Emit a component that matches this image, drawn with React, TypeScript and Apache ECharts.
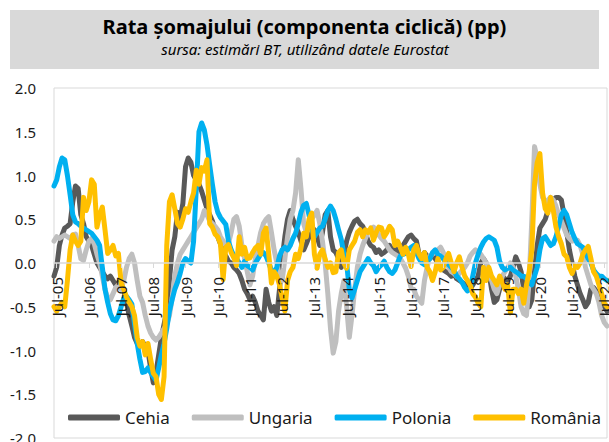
import React, { useEffect, useRef } from "react";
import * as echarts from "echarts";

const MONTHS = ["Jan", "Feb", "Mar", "Apr", "May", "Jun", "Jul", "Aug", "Sep", "Oct", "Nov", "Dec"];
const START_YEAR = 2005;
const START_MONTH = 5; // Jun-05

const TITLE = "Rata șomajului (componenta ciclică) (pp)";
const SUBTITLE = "sursa: estimări BT, utilizând datele Eurostat";

const SERIES_NAMES = ["Cehia", "Ungaria", "Polonia", "România"];
const SERIES_COLORS = ["#595959", "#bfbfbf", "#00b0f0", "#ffc000"];

// Jun-05 .. Aug-22, monthly
const cehia = [
  -0.15, -0.05, 0.2, 0.32, 0.4, 0.42, 0.45,
  0.7, 0.88, 0.85, 0.55, 0.45, 0.3, 0.25, 0.2, 0.1, 0.0, -0.05, -0.1,
  -0.15, -0.18, -0.15, -0.2, -0.25, -0.22, -0.25, -0.3, -0.45, -0.6, -0.72, -0.85,
  -0.92, -0.95, -0.9, -0.95, -1.0, -1.2, -1.37, -1.25, -1.05, -0.85, -0.7, -0.55,
  -0.2, 0.15, 0.3, 0.58, 0.5, 0.68, 1.1, 1.2, 1.15, 1.0, 0.95, 0.9,
  0.82, 0.72, 0.62, 0.55, 0.48, 0.38, 0.3, 0.22, 0.12, 0.08, 0.02, 0.0,
  -0.05, -0.08, -0.12, -0.2, -0.3, -0.35, -0.42, -0.38, -0.45, -0.55, -0.6, -0.65,
  -0.3, -0.45, -0.55, -0.5, -0.6, -0.3, 0.05, 0.3, 0.5, 0.6, 0.5, 0.42,
  0.35, 0.25, 0.15, 0.22, 0.3, 0.35, 0.38, 0.3, 0.2, 0.35, 0.55, 0.6,
  0.3, 0.15, 0.12, 0.05, -0.05, 0.1, 0.25, 0.35, 0.42, 0.48, 0.5, 0.45,
  0.42, 0.35, 0.25, 0.2, 0.18, 0.12, 0.15, 0.1, 0.12, 0.15, 0.2, 0.15,
  0.18, 0.12, 0.1, 0.2, 0.25, 0.3, 0.32, 0.28, 0.25, 0.1, 0.05, 0.12,
  0.08, 0.05, 0.1, 0.05, 0.0, -0.05, -0.08, -0.1, -0.12, -0.15, -0.12, -0.18,
  -0.2, -0.22, -0.24, -0.28, -0.3, -0.25, -0.2, -0.15, 0.0, 0.05, 0.0, -0.1,
  -0.3, -0.45, -0.42, -0.3, -0.15, -0.18, -0.2, -0.15, -0.05, 0.07, 0.0, -0.1,
  -0.3, -0.45, -0.5, -0.42, -0.1, 0.2, 0.4, 0.45, 0.5, 0.6, 0.65, 0.72,
  0.75, 0.75, 0.72, 0.55, 0.35, 0.15, 0.0, -0.15, -0.25, -0.35, -0.42, -0.5,
  -0.45, -0.3, -0.28, -0.32, -0.38, -0.45, -0.5, -0.55,
];

const ungaria = [
  0.25, 0.3, 0.28, 0.3, 0.32, 0.3, 0.28,
  0.32, 0.33, 0.2, 0.05, 0.03, 0.15, 0.25, 0.28, 0.22, 0.1, 0.0, -0.15,
  -0.3, -0.4, -0.42, -0.35, -0.28, -0.25, -0.3, -0.2, -0.05, 0.05, 0.1, 0.0,
  -0.2, -0.38, -0.45, -0.6, -0.72, -0.8, -0.85, -0.88, -0.85, -0.8, -0.75, -0.7,
  -0.6, -0.4, -0.15, 0.0, 0.1, 0.15, 0.2, 0.25, 0.3, 0.35, 0.4, 0.45,
  0.5, 0.6, 0.55, 0.48, 0.45, 0.42, 0.38, 0.3, 0.25, 0.2, 0.22, 0.35,
  0.5, 0.53, 0.42, 0.2, 0.05, -0.1, -0.25, -0.15, 0.05, 0.2, 0.35, 0.45,
  0.5, 0.53, 0.35, 0.15, 0.0, -0.15, -0.2, 0.05, 0.3, 0.5, 0.6, 0.8,
  1.18, 0.85, 0.45, 0.35, 0.4, 0.5, 0.55, 0.6, 0.45, 0.25, 0.0, -0.35,
  -0.75, -1.03, -0.9, -0.55, -0.35, -0.2, -0.5, -0.85, -0.6, -0.3, -0.05, 0.1,
  0.2, 0.28, 0.35, 0.38, 0.41, 0.38, 0.32, 0.28, 0.25, 0.2, 0.15, 0.12,
  0.1, 0.08, 0.05, 0.0, -0.06, -0.15, -0.28, -0.3, -0.38, -0.42, -0.46, -0.2,
  -0.05, 0.08, 0.1, 0.12, 0.15, 0.18, 0.12, 0.05, -0.05, -0.1, -0.12, -0.15,
  -0.12, -0.08, -0.05, 0.0, 0.08, 0.12, 0.15, 0.12, 0.1, 0.05, 0.0, -0.1,
  -0.2, -0.3, -0.35, -0.25, -0.15, -0.1, -0.05, 0.0, -0.05, -0.15, -0.3, -0.5,
  -0.58, -0.6, -0.2, 0.5, 1.33, 1.2, 0.9, 0.75, 0.7, 0.72, 0.75, 0.72,
  0.65, 0.55, 0.48, 0.4, 0.32, 0.28, 0.25, 0.26, 0.26, 0.2, 0.1, -0.05,
  -0.15, -0.25, -0.3, -0.35, -0.45, -0.6, -0.68, -0.72,
];

const polonia = [
  0.88, 0.95, 1.1, 1.2, 1.18, 1.0, 0.78,
  0.55, 0.47, 0.45, 0.42, 0.4, 0.38, 0.36, 0.34, 0.3, 0.26, 0.2, -0.05,
  -0.3, -0.45, -0.58, -0.65, -0.66, -0.6, -0.5, -0.4, -0.38, -0.42, -0.47, -0.7,
  -0.92, -1.1, -1.25, -1.24, -1.2, -1.25, -1.3, -1.34, -1.2, -1.05, -0.92, -0.75,
  -0.55, -0.42, -0.3, -0.22, -0.12, 0.0, 0.05, 0.02, 0.0, 0.25, 0.85, 1.5,
  1.6, 1.52, 1.35, 1.12, 0.9, 0.7, 0.58, 0.52, 0.48, 0.44, 0.25, 0.15,
  0.08, 0.05, 0.0, -0.05, 0.02, -0.03, -0.05, -0.08, 0.0, 0.05, 0.1, 0.12,
  0.08, 0.0, -0.08, -0.12, -0.05, 0.08, 0.15, 0.18, 0.15, 0.2, 0.28, 0.34,
  0.45, 0.58, 0.66, 0.68, 0.55, 0.4, 0.3, 0.35, 0.4, 0.42, 0.5, 0.6,
  0.65, 0.6, 0.5, 0.38, 0.27, 0.1, 0.0, -0.3, -0.4, -0.3, -0.2, -0.1,
  -0.05, 0.0, 0.05, 0.0, -0.03, -0.1, -0.05, -0.02, 0.02, -0.05, -0.1, -0.12,
  -0.08, 0.0, 0.08, 0.1, 0.11, 0.15, 0.18, 0.2, 0.12, 0.05, 0.0, -0.02,
  0.02, 0.05, 0.12, 0.15, 0.1, 0.08, 0.05, 0.0, -0.02, -0.05, -0.08, -0.15,
  -0.18, -0.22, -0.28, -0.32, -0.3, -0.15, 0.0, 0.1, 0.18, 0.24, 0.28, 0.3,
  0.28, 0.26, 0.18, 0.02, -0.05, -0.08, -0.06, -0.05, -0.08, -0.1, -0.12, -0.15,
  -0.15, -0.18, -0.22, -0.25, -0.15, -0.05, 0.15, 0.28, 0.3, 0.25, 0.2, 0.22,
  0.3, 0.42, 0.55, 0.6, 0.55, 0.45, 0.35, 0.28, 0.22, 0.2, 0.18, 0.12,
  0.05, 0.0, -0.08, -0.12, -0.15, -0.15, -0.18, -0.2,
];

const romania = [
  -0.5, -0.55, -0.5, -0.45, -0.5, -0.2, 0.15,
  0.32, 0.25, 0.2, 0.25, 0.75, 0.6, 0.7, 0.95, 0.9, 0.41, 0.55, 0.64,
  0.38, 0.11, 0.15, 0.2, 0.08, 0.11, -0.23, -0.3, -0.39, -0.45, -0.5, -0.6,
  -0.85, -0.95, -0.9, -1.05, -0.92, -1.1, -1.26, -1.3, -1.5, -1.56, -1.3, 0.2,
  0.7, 0.78, 0.62, 0.45, 0.41, 0.5, 0.62, 0.58, 0.7, 0.8, 1.06, 0.9,
  1.09, 1.05, 1.18, 0.45, 0.41, 0.33, 0.3, 0.22, -0.19, 0.18, 0.21, 0.12,
  0.06, -0.03, 0.3, 0.1, 0.18, 0.05, 0.06, 0.12, 0.17, 0.2, 0.1, 0.34,
  0.4, 0.1, -0.23, -0.1, -0.15, -0.25, -0.4, -0.55, -0.2, -0.1, -0.05, 0.1,
  0.05, 0.17, 0.34, 0.3, 0.5, 0.57, 0.1, -0.06, 0.1, 0.15, 0.05, -0.05,
  0.0, -0.11, -0.1, 0.12, 0.15, 0.0, -0.06, 0.15, 0.2, 0.25, 0.35, 0.38,
  0.3, 0.38, 0.35, 0.4, 0.26, 0.35, 0.41, 0.4, 0.3, 0.35, 0.42, 0.38,
  0.2, 0.25, 0.18, 0.1, 0.18, 0.1, -0.04, 0.15, 0.2, 0.1, 0.05, 0.12,
  -0.05, -0.1, -0.2, -0.1, 0.05, -0.08, -0.05, 0.05, 0.11, 0.0, -0.1, 0.0,
  0.07, -0.05, -0.15, -0.2, -0.25, -0.35, -0.39, -0.46, -0.5, -0.05, -0.2, -0.05,
  -0.15, -0.2, -0.25, -0.15, -0.22, -0.3, -0.25, -0.57, -0.3, -0.3, -0.35, -0.3,
  -0.46, -0.25, -0.1, 0.15, 0.9, 1.15, 1.25, 0.8, 0.62, 0.57, 0.75, 0.6,
  0.41, 0.3, 0.22, 0.1, 0.07, -0.05, -0.12, -0.03, -0.05, 0.0, 0.1, 0.15,
  0.19, 0.05, -0.1, -0.15, -0.25, -0.35, -0.46, -0.5,
];

const SERIES_DATA = [cehia, ungaria, polonia, romania];

const Y_MIN = -2;
const Y_MAX = 2;
const Y_STEP = 0.5;

const FONT = '"Noto Sans", "Open Sans", sans-serif';
const TEXT_COLOR = "#1a1a1a";
const FRAME_COLOR = "#d9d9d9";

const GRID_TOP = 88;
const GRID_BOTTOM = 4;
const CHART_H = 442;

function buildCategories(n: number): string[] {
  const out: string[] = [];
  for (let k = 0; k < n; k++) {
    const mIdx = START_MONTH + k;
    const m = mIdx % 12;
    const y = START_YEAR + Math.floor(mIdx / 12);
    out.push(`${MONTHS[m]}-${String(y % 100).padStart(2, "0")}`);
  }
  return out;
}

export default function App() {
  const ref = useRef<HTMLDivElement>(null);

  useEffect(() => {
    if (!ref.current) return;
    const chart = echarts.init(ref.current, undefined, { renderer: "svg" });
    const categories = buildCategories(cehia.length);
    const showJul = (idx: number) => !!categories[idx] && categories[idx].startsWith("Jul");

    // place the category axis at value 0 (labels included)
    const plotH = CHART_H - GRID_TOP - GRID_BOTTOM;
    const zeroOffset = -plotH * ((0 - Y_MIN) / (Y_MAX - Y_MIN));

    chart.setOption({
      animation: false,
      backgroundColor: "#ffffff",
      textStyle: { fontFamily: FONT },
      graphic: [
        {
          type: "rect",
          shape: { x: 10, y: 10, width: 589, height: 59 },
          style: { fill: "#d9d9d9" },
          silent: true,
        },
        {
          type: "text",
          x: 304.5,
          y: 26,
          style: {
            text: TITLE,
            fontFamily: FONT,
            fontSize: 20,
            fontWeight: "bold",
            fill: "#000000",
            textAlign: "center",
            textVerticalAlign: "middle",
          },
        },
        {
          type: "text",
          x: 305,
          y: 49,
          style: {
            text: SUBTITLE,
            fontFamily: FONT,
            fontSize: 15,
            fontStyle: "italic",
            fill: "#000000",
            textAlign: "center",
            textVerticalAlign: "middle",
          },
        },
      ],
      grid: {
        left: 54,
        right: 2,
        top: GRID_TOP,
        bottom: GRID_BOTTOM,
        outerBoundsMode: "none",
        containLabel: false,
        show: true,
        borderColor: FRAME_COLOR,
        borderWidth: 1,
        backgroundColor: "transparent",
      },
      legend: {
        data: SERIES_NAMES,
        left: 63,
        top: 404,
        icon: "roundRect",
        itemWidth: 52,
        itemHeight: 6,
        itemGap: 22,
        textStyle: { fontSize: 17, color: TEXT_COLOR, fontFamily: FONT },
      },
      xAxis: {
        type: "category",
        data: categories,
        boundaryGap: false,
        position: "bottom",
        offset: zeroOffset,
        z: 10,
        axisLine: { onZero: false, lineStyle: { color: FRAME_COLOR, width: 1.5 } },
        axisTick: {
          show: true,
          interval: (idx: number) => showJul(idx),
          length: 5,
          lineStyle: { color: FRAME_COLOR },
        },
        axisLabel: {
          interval: (idx: number) => showJul(idx),
          rotate: 90,
          margin: 14,
          fontSize: 15,
          color: TEXT_COLOR,
          fontFamily: FONT,
        },
        splitLine: { show: false },
      },
      yAxis: {
        type: "value",
        min: Y_MIN,
        max: Y_MAX,
        interval: Y_STEP,
        axisLine: { show: false },
        axisTick: { show: false },
        splitLine: { show: false },
        axisLabel: {
          formatter: (v: number) => v.toFixed(1),
          fontSize: 15,
          margin: 18,
          color: TEXT_COLOR,
          fontFamily: FONT,
        },
      },
      series: SERIES_NAMES.map((name, i) => ({
        name,
        type: "line",
        data: SERIES_DATA[i],
        showSymbol: false,
        symbol: "none",
        color: SERIES_COLORS[i],
        lineStyle: { width: 5, color: SERIES_COLORS[i], cap: "round", join: "round" },
        z: 2 + i,
      })),
    });

    return () => chart.dispose();
  }, []);

  return (
    <div
      ref={ref}
      style={{ position: "fixed", left: 0, top: 0, width: 609, height: 442 }}
    />
  );
}
